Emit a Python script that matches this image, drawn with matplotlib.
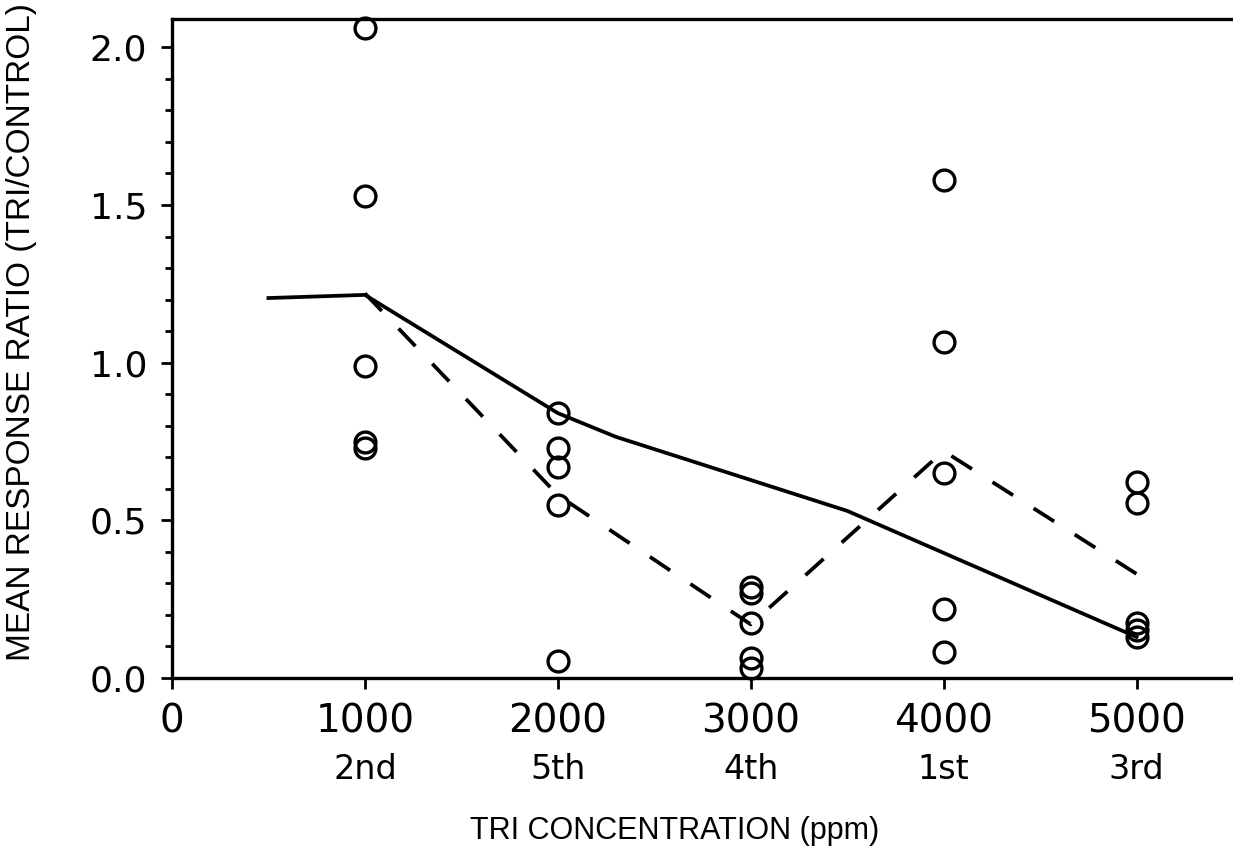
import matplotlib
matplotlib.use("Agg")
import matplotlib.pyplot as plt
from matplotlib.ticker import MultipleLocator

# --- data ---
conc = [1000, 2000, 3000, 4000, 5000]
order = ["2nd", "5th", "4th", "1st", "3rd"]

ratio_1000 = [2.06, 1.53, 0.99, 0.75, 0.73]
ratio_2000 = [0.84, 0.73, 0.67, 0.55, 0.055]
ratio_3000 = [0.29, 0.27, 0.175, 0.063, 0.033]
ratio_4000 = [1.58, 1.067, 0.65, 0.22, 0.083]
ratio_5000 = [0.62, 0.555, 0.175, 0.152, 0.13]

# solid fitted curve
fit_x = [500, 1000, 2000, 2300, 3500, 5000]
fit_y = [1.205, 1.215, 0.84, 0.765, 0.53, 0.13]

# dashed line through means
mean_x = [1000, 2000, 3000, 4000, 5000]
mean_y = [1.22, 0.58, 0.17, 0.72, 0.33]

plt.rcParams["font.family"] = ["DejaVu Sans"]

fig = plt.figure(figsize=(12.33, 8.51), dpi=100)
ax = fig.add_axes([0.1395, 0.2033, 0.8605, 0.7744])

groups = [ratio_1000, ratio_2000, ratio_3000, ratio_4000, ratio_5000]
for c, vals in zip(conc, groups):
    ax.plot([c] * len(vals), vals, linestyle="none", marker="o", ms=15,
            mfc="none", mec="black", mew=2.4, clip_on=False)

ax.plot(fit_x, fit_y, color="black", lw=2.7)
ax.plot(mean_x, mean_y, color="black", lw=2.7, dashes=(6.5, 6.5))

ax.set_xlim(0, 5500)
ax.set_ylim(0, 2.09)

ax.spines["right"].set_visible(False)
for s in ["left", "bottom", "top"]:
    ax.spines[s].set_linewidth(2.4)

ax.set_xticks([0] + conc)
ax.set_xticklabels(["0"] + [str(c) for c in conc], fontsize=28)
ax.yaxis.set_major_locator(MultipleLocator(0.5))
ax.yaxis.set_minor_locator(MultipleLocator(0.1))
ax.set_yticklabels([f"{v:.1f}" for v in ax.get_yticks()], fontsize=26)
ax.tick_params(axis="y", which="major", length=8, width=2, pad=10)
ax.tick_params(axis="y", which="minor", length=5, width=2)
ax.tick_params(axis="x", which="major", length=8, width=2, pad=10)

# second row of x labels: order of exposure
sec = ax.secondary_xaxis("bottom")
sec.set_xticks(conc)
sec.set_xticklabels(order, fontsize=24)
sec.tick_params(length=0, pad=54)
sec.spines["bottom"].set_visible(False)

ax.set_xlabel("TRI CONCENTRATION (ppm)", family="Liberation Sans", fontsize=22)
ax.xaxis.set_label_coords(0.474, -0.21)
ax.set_ylabel("MEAN RESPONSE RATIO (TRI/CONTROL)", family="Liberation Sans",
              fontsize=24)
ax.yaxis.set_label_coords(-0.127, 0.525)

fig.savefig("out.png", dpi=100)
